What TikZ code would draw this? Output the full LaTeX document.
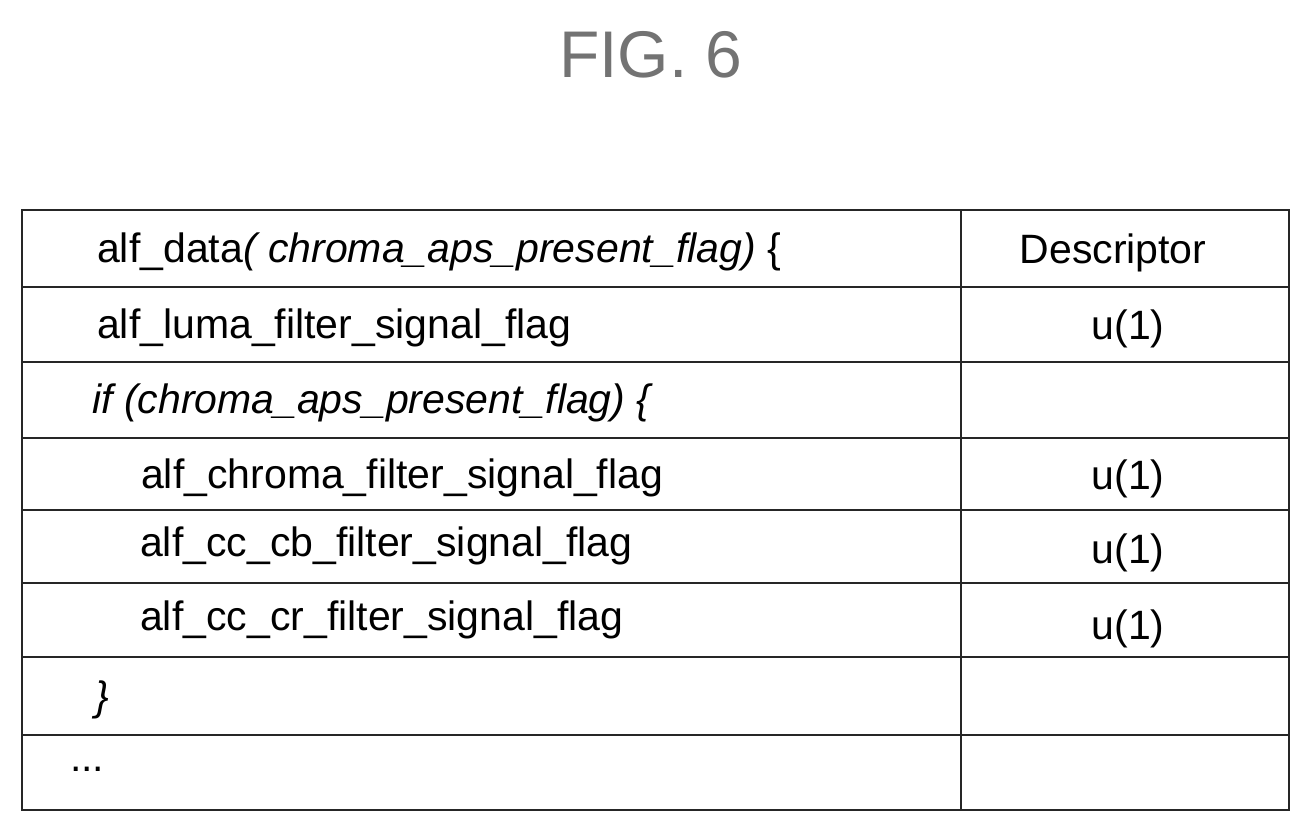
\documentclass[tikz,border=0pt]{standalone}
\usepackage{fontspec}
\setmainfont{Liberation Sans}
\begin{document}
\begin{tikzpicture}[x=1pt,y=-1pt,
  cell/.style={anchor=west,inner sep=0pt,font=\fontsize{41}{43}\selectfont},
  desc/.style={anchor=center,inner sep=0pt,font=\fontsize{41}{43}\selectfont},
  grid/.style={line width=2.2pt,black!85}]
\useasboundingbox (0,0) rectangle (1311,833);
\node[inner sep=0pt,font=\fontsize{66}{68}\selectfont,text=black!55] (title) at (651,55) {FIG. 6};
\draw[grid] (22,210) rectangle (1289,810);
\draw[grid] (961,210) -- (961,810);
\foreach \y in {287,362,438,510,583,657,735} \draw[grid] (22,\y) -- (1289,\y);
\node[cell] (r1) at (97,252) {alf\_data\textit{( chroma\_aps\_present\_flag)} \{};
\node[desc] (d1) at (1113,253) {Descriptor};
\node[cell] (r2) at (97,328) {alf\_luma\_filter\_signal\_flag};
\node[desc] (d2) at (1128,329) {u(1)};
\node[cell] (r3) at (92,403) {\textit{if (chroma\_aps\_present\_flag) \{}};
\node[cell] (r4) at (141,478) {alf\_chroma\_filter\_signal\_flag};
\node[desc] (d4) at (1128,479) {u(1)};
\node[cell] (r5) at (140,546) {alf\_cc\_cb\_filter\_signal\_flag};
\node[desc] (d5) at (1128,553) {u(1)};
\node[cell] (r6) at (140,620) {alf\_cc\_cr\_filter\_signal\_flag};
\node[desc] (d6) at (1128,629) {u(1)};
\node[cell] (r7) at (95,700) {\textit{\}}};
\node[cell] (r8) at (70,769) {...};
\end{tikzpicture}
\end{document}
